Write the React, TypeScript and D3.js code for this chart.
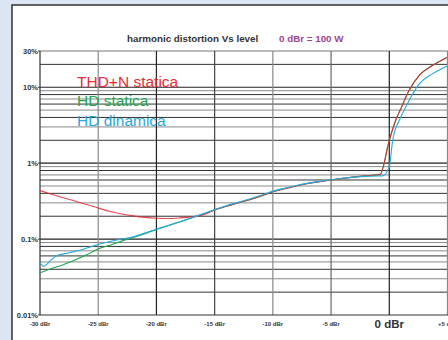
import React from "react";
import * as d3 from "d3";

const xTicks = [-30, -25, -20, -15, -10, -5, 0, 5];
const xTickLabels = ["-30 dBr", "-25 dBr", "-20 dBr", "-15 dBr", "-10 dBr", "-5 dBr", "0 dBr", "+5 dBr"];
const yTicks = [30, 10, 1, 0.1, 0.01];
const yTickLabels = ["30%", "10%", "1%", "0.1%", "0.01%"];

const thdnDbr = [-30, -29, -28, -27, -26, -25, -24, -23, -22, -21, -20, -19, -18, -17, -16, -15, -14, -13, -12, -11, -10, -9, -8, -7, -6, -5, -4, -3, -2, -1, -0.8, 0, 0.56, 0.94, 1.71, 2.57, 3.7, 4.95];
const thdnPct = [0.435, 0.39, 0.35, 0.318, 0.285, 0.256, 0.232, 0.214, 0.202, 0.193, 0.188, 0.187, 0.19, 0.196, 0.208, 0.242, 0.27, 0.3, 0.33, 0.37, 0.42, 0.46, 0.5, 0.54, 0.57, 0.6, 0.63, 0.66, 0.68, 0.7, 0.705, 2.0, 3.7, 5.0, 9.1, 14.3, 19.3, 24.7];

const hdDbr = [-30, -29, -28, -27, -26, -25, -24, -23, -22, -21, -20, -19, -18, -17, -16, -15, -14, -13, -12, -11, -10, -9, -8, -7, -6, -5, -4, -3, -2, -1, -0.8, 0, 0.56, 0.94, 1.71, 2.57, 3.7, 4.95];
const hdPct = [0.036, 0.041, 0.046, 0.053, 0.062, 0.074, 0.083, 0.094, 0.105, 0.118, 0.134, 0.15, 0.168, 0.19, 0.213, 0.242, 0.27, 0.3, 0.33, 0.37, 0.42, 0.46, 0.5, 0.54, 0.57, 0.6, 0.63, 0.66, 0.68, 0.7, 0.705, 2.0, 3.7, 5.0, 9.1, 14.3, 19.3, 24.7];

const dynDbr = [-30, -29.7, -29, -28.6, -27.5, -26.5, -25.3, -24.1, -23, -22, -21, -20, -19, -18, -17, -16, -15, -14, -13, -12, -11, -10, -9, -8, -7, -6, -5, -4, -3, -2, -1, -0.57, 0, 0.29, 0.87, 1.28, 1.49, 2.57, 3.7, 4.95];
const dynPct = [0.049, 0.044, 0.054, 0.06, 0.066, 0.072, 0.082, 0.092, 0.1, 0.107, 0.12, 0.135, 0.151, 0.169, 0.191, 0.215, 0.245, 0.275, 0.305, 0.337, 0.377, 0.428, 0.468, 0.508, 0.545, 0.575, 0.605, 0.632, 0.655, 0.67, 0.678, 0.68, 0.9, 2.0, 3.7, 5.0, 5.8, 11.1, 15.0, 18.9];

const legendNames = ["THD+N statica", "HD statica", "HD dinamica"];
const legendColors = ["#ee2a34", "#1ea64e", "#27aae1"];

const W = 448, H = 340;
const x = d3.scaleLinear().domain([-30, 5]).range([40, 447.5]);
const y = d3.scaleLog().domain([0.01, 30]).range([315, 51]);

const minorVals: number[] = [];
[0.01, 0.1, 1, 10].forEach((dec) => {
  for (let m = 2; m <= 9; m++) {
    const v = dec * m;
    if (v < 30) minorVals.push(v);
  }
});
const vColors = ["#333", "#8a8a8a", "#222", "#444", "#8a8a8a", "#666", "#222", "#888"];

function pts(xs: number[], ys: number[]): [number, number][] {
  return xs.map((d, i) => [x(d), y(ys[i])]);
}

const line = d3.line<[number, number]>().curve(d3.curveMonotoneX);

export default function App() {
  return (
    <div style={{ position: "fixed", left: 0, top: 0 }}>
      <svg width={W} height={H} style={{ display: "block" }} fontFamily="Liberation Sans, Arial, sans-serif">
        <rect x={0} y={0} width={W} height={H} fill="#dce6f5" />
        <rect x={12} y={5} width={W} height={H} fill="#fff" stroke="#333" strokeWidth={1.5} />
        {minorVals.map((v, i) => (
          <line key={"m" + i} x1={40} x2={W} y1={y(v)} y2={y(v)} stroke={(Math.round(v / Math.pow(10, Math.floor(Math.log10(v) + 1e-9))) % 2 === 0) ? "#333" : "#8a8a8a"} strokeWidth={1} />
        ))}
        {[0.1, 1, 10].map((v) => (
          <line key={"d" + v} x1={40} x2={W} y1={y(v)} y2={y(v)} stroke="#222" strokeWidth={1.2} />
        ))}
        <line x1={40} x2={W} y1={y(30)} y2={y(30)} stroke="#777" strokeWidth={1} />
        {xTicks.slice(1).map((t, i) => (
          <line key={"v" + t} x1={x(t)} x2={x(t)} y1={51} y2={315} stroke={vColors[i + 1]} strokeWidth={1.2} />
        ))}
        <line x1={40} x2={40} y1={51} y2={315} stroke="#333" strokeWidth={1.2} />
        <line x1={40} x2={W} y1={315} y2={315} stroke="#333" strokeWidth={1.2} />
        {yTicks.map((t, i) => (
          <g key={"yt" + t}>
            <line x1={38} x2={40} y1={y(t)} y2={y(t)} stroke="#333" strokeWidth={1} />
            <text x={38} y={y(t)} dy="0.35em" textAnchor="end" fontSize={7.5} fontWeight="bold" fill="#333">{yTickLabels[i]}</text>
          </g>
        ))}
        {xTicks.map((t, i) => (
          <text key={"xt" + t} x={x(t)} y={t === 0 ? 328 : 326} textAnchor="middle" fontSize={t === 0 ? 11.5 : 6} fontWeight="bold" fill="#333">{xTickLabels[i]}</text>
        ))}
        <text x={127} y={42} fontSize={9.8} fontWeight="bold" fill="#333">harmonic distortion Vs level</text>
        <text x={279} y={42} fontSize={9.8} fontWeight="bold" fill="#a0458c">0 dBr = 100 W</text>
        <path d={line(pts(hdDbr, hdPct)) || ""} fill="none" stroke={legendColors[1]} strokeWidth={1.1} />
        <path d={line(pts(thdnDbr, thdnPct)) || ""} fill="none" stroke="#e8202a" strokeOpacity={0.82} strokeWidth={1.1} />
        <path d={line(pts(dynDbr, dynPct)) || ""} fill="none" stroke={legendColors[2]} strokeWidth={1.1} />
        {legendNames.map((n, i) => (
          <text key={n} x={77} y={86.5 + i * 19.6} fontSize={15.5} fill={legendColors[i]}>{n}</text>
        ))}
      </svg>
    </div>
  );
}
